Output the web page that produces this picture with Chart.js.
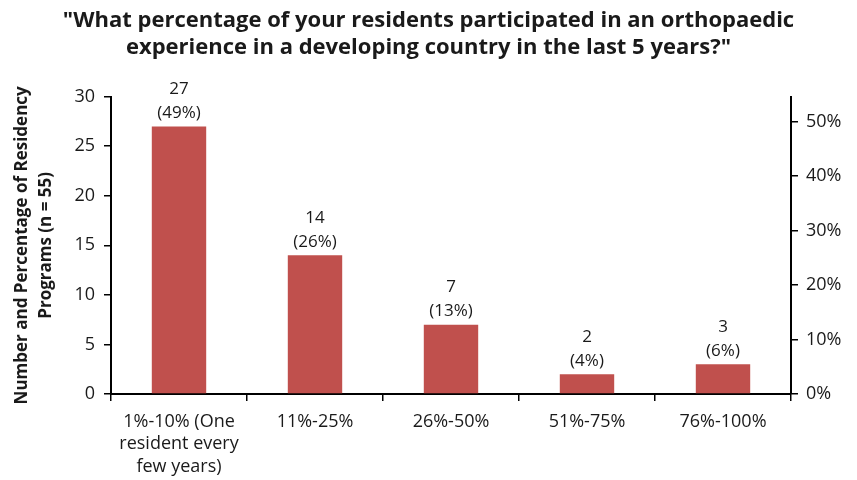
<!DOCTYPE html>
<html>
<head>
<meta charset="utf-8">
<script src="https://cdn.jsdelivr.net/npm/chart.js@4.4.0/dist/chart.umd.min.js"></script>
<style>
  html, body { margin: 0; padding: 0; background: #fff; }
  #wrap { width: 857px; height: 480px; }
</style>
</head>
<body>
<div id="wrap"><canvas id="chart" width="857" height="480"></canvas></div>
<script>
// data
const categories = [
    ['1%-10% (One', 'resident every', 'few years)'],
    '11%-25%',
    '26%-50%',
    '51%-75%',
    '76%-100%'
];
const counts = [27, 14, 7, 2, 3];
const percentLabels = ['49%', '26%', '13%', '4%', '6%'];
const totalPrograms = 55;
const countTicks = [0, 5, 10, 15, 20, 25, 30];
const percentTicks = [0, 10, 20, 30, 40, 50];

const FONT = '"Open Sans", Lato, sans-serif';
const TEXT = '#1a1a1a';

// draws "27" / "(49%)" above each bar
const barLabels = {
    id: 'barLabels',
    afterDatasetsDraw(chart) {
        const ctx = chart.ctx;
        const meta = chart.getDatasetMeta(0);
        ctx.save();
        ctx.font = '17px ' + FONT;
        ctx.fillStyle = TEXT;
        ctx.textAlign = 'center';
        ctx.textBaseline = 'middle';
        meta.data.forEach((bar, i) => {
            ctx.fillText('(' + percentLabels[i] + ')', bar.x, bar.y - 13);
            ctx.fillText(String(counts[i]), bar.x, bar.y - 37);
        });
        ctx.restore();
    }
};

new Chart(document.getElementById('chart').getContext('2d'), {
    type: 'bar',
    data: {
        labels: categories,
        datasets: [{
            data: counts,
            backgroundColor: '#C0504D',
            borderWidth: 0,
            barPercentage: 0.4,
            categoryPercentage: 1.0,
            yAxisID: 'y'
        }]
    },
    options: {
        responsive: false,
        animation: false,
        layout: { padding: { left: 0, right: 0, top: 4, bottom: 0 } },
        plugins: {
            legend: { display: false },
            tooltip: { enabled: false },
            title: {
                display: true,
                text: ['"What percentage of your residents participated in an orthopaedic',
                       'experience in a developing country in the last 5 years?"'],
                color: TEXT,
                font: { family: FONT, size: 22, weight: 'bold', lineHeight: 1.22 },
                padding: { top: 3, bottom: 36 }
            }
        },
        scales: {
            x: {
                grid: {
                    offset: true,
                    drawOnChartArea: false,
                    color: '#000',
                    lineWidth: 1.5,
                    tickLength: 7
                },
                border: { color: '#000', width: 2 },
                ticks: {
                    color: TEXT,
                    font: { family: FONT, size: 18, lineHeight: 1.27 },
                    maxRotation: 0,
                    autoSkip: false,
                    padding: 9
                },
                afterFit(scale) { scale.height = 86; }
            },
            y: {
                position: 'left',
                min: 0,
                max: 30,
                afterBuildTicks(scale) { scale.ticks = countTicks.map(v => ({ value: v })); },
                grid: {
                    drawOnChartArea: false,
                    color: '#000',
                    lineWidth: 1.5,
                    tickLength: 7
                },
                border: { color: '#000', width: 2 },
                ticks: {
                    color: TEXT,
                    font: { family: FONT, size: 18 },
                    padding: 9
                },
                title: {
                    display: true,
                    text: ['Number and Percentage of Residency', 'Programs (n = 55)'],
                    color: TEXT,
                    font: { family: FONT, size: 17, weight: 'bold', lineHeight: 1.4 },
                    padding: { top: 10, bottom: 4 }
                },
                afterFit(scale) { scale.width = 111; }
            },
            y1: {
                display: true,
                position: 'right',
                min: 0,
                max: 30 / totalPrograms * 100,
                afterBuildTicks(scale) { scale.ticks = percentTicks.map(v => ({ value: v })); },
                grid: {
                    drawOnChartArea: false,
                    color: '#000',
                    lineWidth: 1.5,
                    tickLength: 7
                },
                border: { color: '#000', width: 2 },
                ticks: {
                    color: TEXT,
                    font: { family: FONT, size: 18 },
                    padding: 8,
                    callback: v => v + '%'
                },
                afterFit(scale) { scale.width = 66; }
            }
        }
    },
    plugins: [barLabels]
});
</script>
</body>
</html>
